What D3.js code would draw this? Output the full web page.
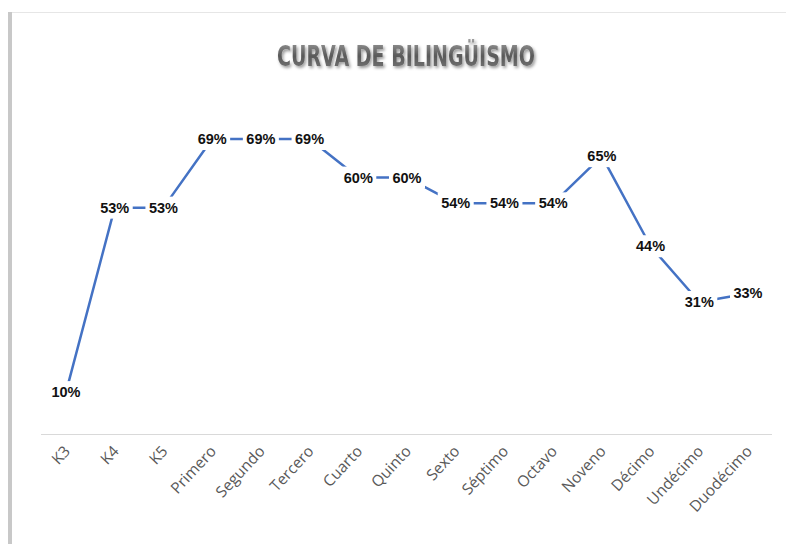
<!DOCTYPE html>
<html>
<head>
<meta charset="utf-8">
<script src="https://cdn.jsdelivr.net/npm/d3@7"></script>
<style>
  body { margin: 0; background: #fff; }
  svg { display: block; }
</style>
</head>
<body>
<svg id="chart"></svg>
<script>
var grades = ["K3", "K4", "K5", "Primero", "Segundo", "Tercero", "Cuarto", "Quinto",
  "Sexto", "Séptimo", "Octavo", "Noveno", "Décimo", "Undécimo", "Duodécimo"];
var bilingual = [10, 53, 53, 69, 69, 69, 60, 60, 54, 54, 54, 65, 44, 31, 33];
var title = "CURVA DE BILINGÜISMO";

var width = 786, height = 544;
var svg = d3.select("#chart").attr("width", width).attr("height", height);

var defs = svg.append("defs");
var shadow = defs.append("filter").attr("id", "tshadow")
  .attr("x", "-10%").attr("y", "-20%").attr("width", "120%").attr("height", "150%");
shadow.append("feDropShadow").attr("dx", 1.5).attr("dy", 2).attr("stdDeviation", 1.5)
  .attr("flood-color", "#000").attr("flood-opacity", 0.4);
var grad = defs.append("linearGradient").attr("id", "tgrad")
  .attr("x1", 0).attr("y1", 0).attr("x2", 0).attr("y2", 1);
grad.append("stop").attr("offset", "0%").attr("stop-color", "#a0a0a0");
grad.append("stop").attr("offset", "50%").attr("stop-color", "#595959");
grad.append("stop").attr("offset", "100%").attr("stop-color", "#7a7a7a");

// chart area frame (shadowed left/top edge)
svg.append("rect").attr("x", 8).attr("y", 12).attr("width", 4).attr("height", height)
  .attr("fill", "#c8c8c8");
svg.append("line").attr("x1", 12).attr("x2", width).attr("y1", 12.5).attr("y2", 12.5)
  .attr("stroke", "#e6e6e6");

var x = d3.scalePoint().domain(grades).range([66, 748]);
var y = d3.scaleLinear().domain([0, 100]).range([435, 6]);

// baseline
svg.append("line")
  .attr("x1", 41).attr("x2", 772)
  .attr("y1", 434.5).attr("y2", 434.5)
  .attr("stroke", "#d9d9d9").attr("stroke-width", 1);

// title
svg.append("text")
  .attr("x", 406).attr("y", 66)
  .attr("text-anchor", "middle")
  .attr("font-family", "DejaVu Sans Condensed, Liberation Sans Narrow, sans-serif")
  .attr("font-weight", "bold")
  .attr("font-size", 29)
  .attr("textLength", 258)
  .attr("lengthAdjust", "spacingAndGlyphs")
  .attr("fill", "url(#tgrad)")
  .attr("filter", "url(#tshadow)")
  .text(title);

// x labels
svg.append("g").selectAll("text")
  .data(grades)
  .join("text")
  .attr("transform", function(d) { return "translate(" + (x(d) + 5) + ",452) rotate(-47)"; })
  .attr("text-anchor", "end")
  .attr("font-family", "Open Sans, sans-serif")
  .attr("font-size", 15.5)
  .attr("fill", "#595959")
  .text(function(d) { return d; });

// line
var line = d3.line()
  .x(function(d, i) { return x(grades[i]); })
  .y(function(d) { return y(d); });

svg.append("path")
  .datum(bilingual)
  .attr("d", line)
  .attr("fill", "none")
  .attr("stroke", "#4472C4")
  .attr("stroke-width", 2.5)
  .attr("stroke-linejoin", "round");

// data labels (centered, covering the line)
var labels = svg.append("g").selectAll("g")
  .data(bilingual)
  .join("g")
  .attr("transform", function(d, i) { return "translate(" + x(grades[i]) + "," + y(d) + ")"; });

labels.append("rect")
  .attr("x", -18).attr("y", -11).attr("width", 36).attr("height", 22)
  .attr("fill", "#fff");

labels.append("text")
  .attr("text-anchor", "middle")
  .attr("dy", 5)
  .attr("font-family", "Liberation Sans, Arial, sans-serif")
  .attr("font-weight", "bold")
  .attr("font-size", 14.5)
  .attr("fill", "#111")
  .text(function(d) { return d + "%"; });
</script>
</body>
</html>
